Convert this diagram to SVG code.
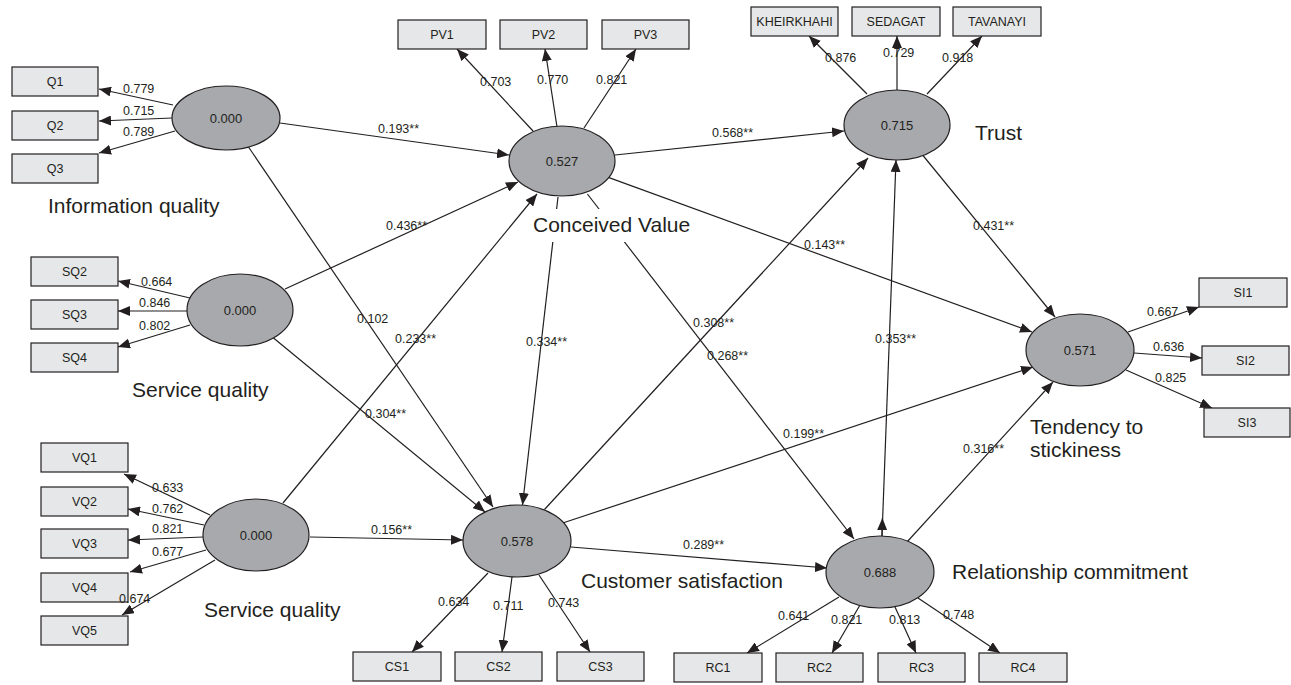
<svg xmlns="http://www.w3.org/2000/svg" width="1291" height="685" viewBox="0 0 1291 685">
<style>
  .bg{fill:#ffffff}
  .lv{fill:#a7a9ac;stroke:#231f20;stroke-width:1.2}
  .mv{fill:#e6e7e8;stroke:#231f20;stroke-width:1.2}
  .ln{stroke:#231f20;stroke-width:1.2;fill:none;marker-end:url(#ah)}
  .t{font-family:"Liberation Sans",Arial,sans-serif;fill:#231f20}
  .s{font-size:12.5px}
  .v{font-size:13px;text-anchor:middle}
  .b{font-size:12.5px;text-anchor:middle}
  .L{font-size:21px}
</style>
<defs>
  <marker id="ah" markerUnits="userSpaceOnUse" markerWidth="13" markerHeight="10" refX="12" refY="5" orient="auto" viewBox="0 0 13 10">
    <path d="M0,0 L12,5 L0,10 z" fill="#231f20"/>
  </marker>
</defs>
<rect class="bg" x="0" y="0" width="1291" height="685"/>

<g id="connectors">
  <!-- loadings -->
  <line class="ln" x1="173" y1="105" x2="99" y2="89"/>
  <line class="ln" x1="172" y1="118" x2="99" y2="121"/>
  <line class="ln" x1="175" y1="131" x2="99" y2="153"/>
  <line class="ln" x1="533" y1="131" x2="457" y2="49"/>
  <line class="ln" x1="557" y1="127" x2="545" y2="49"/>
  <line class="ln" x1="584" y1="128" x2="636" y2="49"/>
  <line class="ln" x1="867" y1="94" x2="809" y2="36"/>
  <line class="ln" x1="897" y1="90" x2="897" y2="36"/>
  <line class="ln" x1="927" y1="94" x2="982" y2="36"/>
  <line class="ln" x1="190" y1="298" x2="118" y2="281"/>
  <line class="ln" x1="187" y1="311" x2="118" y2="311"/>
  <line class="ln" x1="190" y1="325" x2="118" y2="347"/>
  <line class="ln" x1="210" y1="515" x2="124" y2="474"/>
  <line class="ln" x1="204" y1="525" x2="128" y2="509"/>
  <line class="ln" x1="203" y1="537" x2="128" y2="540"/>
  <line class="ln" x1="206" y1="550" x2="130" y2="572"/>
  <line class="ln" x1="215" y1="560" x2="122" y2="615"/>
  <line class="ln" x1="488" y1="573" x2="412" y2="652"/>
  <line class="ln" x1="512" y1="577" x2="502" y2="652"/>
  <line class="ln" x1="539" y1="575" x2="590" y2="652"/>
  <line class="ln" x1="839" y1="597" x2="747" y2="653"/>
  <line class="ln" x1="860" y1="605" x2="832" y2="653"/>
  <line class="ln" x1="895" y1="607" x2="916" y2="653"/>
  <line class="ln" x1="918" y1="598" x2="1000" y2="653"/>
  <line class="ln" x1="1128" y1="332" x2="1199" y2="307"/>
  <line class="ln" x1="1134" y1="353" x2="1202" y2="358"/>
  <line class="ln" x1="1126" y1="370" x2="1212" y2="408"/>
  <!-- structural paths -->
  <line class="ln" x1="280" y1="123" x2="509" y2="155"/>
  <line class="ln" x1="248.5" y1="147" x2="493" y2="507"/>
  <line class="ln" x1="285" y1="289" x2="518" y2="182"/>
  <line class="ln" x1="273.5" y1="338" x2="485" y2="512"/>
  <line class="ln" x1="283" y1="503" x2="537" y2="194"/>
  <line class="ln" x1="310" y1="537" x2="463" y2="540"/>
  <line class="ln" x1="558" y1="197" x2="522.5" y2="505"/>
  <line class="ln" x1="615" y1="155" x2="844" y2="131"/>
  <line class="ln" x1="609" y1="177.6" x2="1032" y2="332"/>
  <line class="ln" x1="587.4" y1="194" x2="854" y2="539"/>
  <line class="ln" x1="544.5" y1="509.5" x2="868" y2="158"/>
  <line class="ln" x1="563.5" y1="522.8" x2="1033" y2="367"/>
  <line class="ln" x1="571" y1="547" x2="827" y2="568"/>
  <line class="ln" x1="882" y1="536" x2="896" y2="160"/>
  <line class="ln" x1="882" y1="536" x2="882.4" y2="518"/>
  <line class="ln" x1="923" y1="155.5" x2="1055" y2="317"/>
  <line class="ln" x1="907" y1="542" x2="1053" y2="382"/>
</g>

<g id="node-information-quality">
  <ellipse class="lv" cx="226" cy="118" rx="54" ry="32"/>
  <text class="t v" x="226" y="122.5">0.000</text>
  <text class="t L" x="48" y="213">Information quality</text>
</g>
<g id="node-conceived-value">
  <ellipse class="lv" cx="562" cy="161" rx="53" ry="35"/>
  <text class="t v" x="562" y="165.5">0.527</text>
  <rect x="530" y="209" width="158" height="33" fill="#ffffff"/>
  <text class="t L" x="533" y="232">Conceived Value</text>
</g>
<g id="node-trust">
  <ellipse class="lv" cx="897" cy="125" rx="53" ry="35"/>
  <text class="t v" x="897" y="129.5">0.715</text>
  <text class="t L" x="975" y="140">Trust</text>
</g>
<g id="node-service-quality-1">
  <ellipse class="lv" cx="240" cy="310" rx="53" ry="36"/>
  <text class="t v" x="240" y="314.5">0.000</text>
  <text class="t L" x="132" y="397">Service quality</text>
</g>
<g id="node-service-quality-2">
  <ellipse class="lv" cx="256" cy="535" rx="53" ry="36"/>
  <text class="t v" x="256" y="539.5">0.000</text>
  <text class="t L" x="204" y="617">Service quality</text>
</g>
<g id="node-customer-satisfaction">
  <ellipse class="lv" cx="517" cy="541" rx="54" ry="36"/>
  <text class="t v" x="517" y="545.5">0.578</text>
  <text class="t L" x="581" y="588">Customer satisfaction</text>
</g>
<g id="node-relationship-commitment">
  <ellipse class="lv" cx="880" cy="572" rx="54" ry="36"/>
  <text class="t v" x="880" y="576.5">0.688</text>
  <text class="t L" x="952" y="579">Relationship commitment</text>
</g>
<g id="node-tendency-to-stickiness">
  <ellipse class="lv" cx="1080" cy="350" rx="54" ry="36"/>
  <text class="t v" x="1080" y="354.5">0.571</text>
  <text class="t L" x="1030" y="434">Tendency to</text>
  <text class="t L" x="1030" y="457">stickiness</text>
</g>

<g id="node-Q1"><rect class="mv" x="12" y="67" width="86" height="29"/><text class="t b" x="55" y="86">Q1</text></g>
<g id="node-Q2"><rect class="mv" x="12" y="111" width="86" height="29"/><text class="t b" x="55" y="130">Q2</text></g>
<g id="node-Q3"><rect class="mv" x="12" y="154" width="86" height="29"/><text class="t b" x="55" y="173">Q3</text></g>
<g id="node-PV1"><rect class="mv" x="398" y="20" width="88" height="29"/><text class="t b" x="442" y="39">PV1</text></g>
<g id="node-PV2"><rect class="mv" x="500" y="20" width="87" height="29"/><text class="t b" x="543.5" y="39">PV2</text></g>
<g id="node-PV3"><rect class="mv" x="602" y="20" width="87" height="29"/><text class="t b" x="645.5" y="39">PV3</text></g>
<g id="node-KHEIRKHAHI"><rect class="mv" x="751" y="7" width="87" height="29"/><text class="t b" x="794.5" y="26">KHEIRKHAHI</text></g>
<g id="node-SEDAGAT"><rect class="mv" x="852" y="7" width="88" height="29"/><text class="t b" x="896" y="26">SEDAGAT</text></g>
<g id="node-TAVANAYI"><rect class="mv" x="953" y="7" width="88" height="29"/><text class="t b" x="997" y="26">TAVANAYI</text></g>
<g id="node-SQ2"><rect class="mv" x="31" y="257" width="87" height="29"/><text class="t b" x="74.5" y="276">SQ2</text></g>
<g id="node-SQ3"><rect class="mv" x="31" y="300" width="87" height="29"/><text class="t b" x="74.5" y="319">SQ3</text></g>
<g id="node-SQ4"><rect class="mv" x="31" y="343" width="87" height="29"/><text class="t b" x="74.5" y="362">SQ4</text></g>
<g id="node-VQ1"><rect class="mv" x="41" y="443" width="87" height="29"/><text class="t b" x="84.5" y="462">VQ1</text></g>
<g id="node-VQ2"><rect class="mv" x="41" y="487" width="87" height="29"/><text class="t b" x="84.5" y="506">VQ2</text></g>
<g id="node-VQ3"><rect class="mv" x="41" y="529" width="87" height="29"/><text class="t b" x="84.5" y="548">VQ3</text></g>
<g id="node-VQ4"><rect class="mv" x="41" y="573" width="87" height="29"/><text class="t b" x="84.5" y="592">VQ4</text></g>
<g id="node-VQ5"><rect class="mv" x="41" y="616" width="87" height="29"/><text class="t b" x="84.5" y="635">VQ5</text></g>
<g id="node-CS1"><rect class="mv" x="353" y="652" width="88" height="29"/><text class="t b" x="397" y="671">CS1</text></g>
<g id="node-CS2"><rect class="mv" x="455" y="652" width="87" height="29"/><text class="t b" x="498.5" y="671">CS2</text></g>
<g id="node-CS3"><rect class="mv" x="557" y="652" width="87" height="29"/><text class="t b" x="600.5" y="671">CS3</text></g>
<g id="node-RC1"><rect class="mv" x="674" y="653" width="88" height="29"/><text class="t b" x="718" y="672">RC1</text></g>
<g id="node-RC2"><rect class="mv" x="776" y="653" width="87" height="29"/><text class="t b" x="819.5" y="672">RC2</text></g>
<g id="node-RC3"><rect class="mv" x="878" y="653" width="87" height="29"/><text class="t b" x="921.5" y="672">RC3</text></g>
<g id="node-RC4"><rect class="mv" x="979" y="653" width="88" height="29"/><text class="t b" x="1023" y="672">RC4</text></g>
<g id="node-SI1"><rect class="mv" x="1199" y="278" width="88" height="29"/><text class="t b" x="1243" y="297">SI1</text></g>
<g id="node-SI2"><rect class="mv" x="1202" y="346" width="87" height="29"/><text class="t b" x="1245.5" y="365">SI2</text></g>
<g id="node-SI3"><rect class="mv" x="1204" y="408" width="86" height="29"/><text class="t b" x="1247" y="427">SI3</text></g>

<g id="connector-labels" class="t s">
  <text x="378" y="133">0.193**</text>
  <text x="386" y="230">0.436**</text>
  <text x="357" y="323">0.102</text>
  <text x="395" y="343">0.233**</text>
  <text x="526" y="346">0.334**</text>
  <text x="365" y="418">0.304**</text>
  <text x="371" y="534">0.156**</text>
  <text x="712" y="137">0.568**</text>
  <text x="804" y="249">0.143**</text>
  <text x="693" y="327">0.308**</text>
  <text x="707" y="360">0.268**</text>
  <text x="875" y="343">0.353**</text>
  <text x="973" y="230">0.431**</text>
  <text x="783" y="438">0.199**</text>
  <text x="963" y="453">0.316**</text>
  <text x="683" y="549">0.289**</text>
  <text x="123" y="93">0.779</text>
  <text x="123" y="115">0.715</text>
  <text x="123" y="136">0.789</text>
  <text x="480" y="86">0.703</text>
  <text x="537" y="84">0.770</text>
  <text x="596" y="84">0.821</text>
  <text x="825" y="62">0.876</text>
  <text x="883" y="57">0.729</text>
  <text x="942" y="62">0.918</text>
  <text x="141" y="286">0.664</text>
  <text x="139" y="307">0.846</text>
  <text x="139" y="330">0.802</text>
  <text x="152" y="492">0.633</text>
  <text x="152" y="513">0.762</text>
  <text x="152" y="533">0.821</text>
  <text x="152" y="556">0.677</text>
  <text x="119" y="603">0.674</text>
  <text x="438" y="606">0.634</text>
  <text x="493" y="610">0.711</text>
  <text x="548" y="607">0.743</text>
  <text x="778" y="620">0.641</text>
  <text x="831" y="624">0.821</text>
  <text x="889" y="624">0.813</text>
  <text x="943" y="619">0.748</text>
  <text x="1147" y="316">0.667</text>
  <text x="1153" y="351">0.636</text>
  <text x="1155" y="382">0.825</text>
</g>
</svg>
